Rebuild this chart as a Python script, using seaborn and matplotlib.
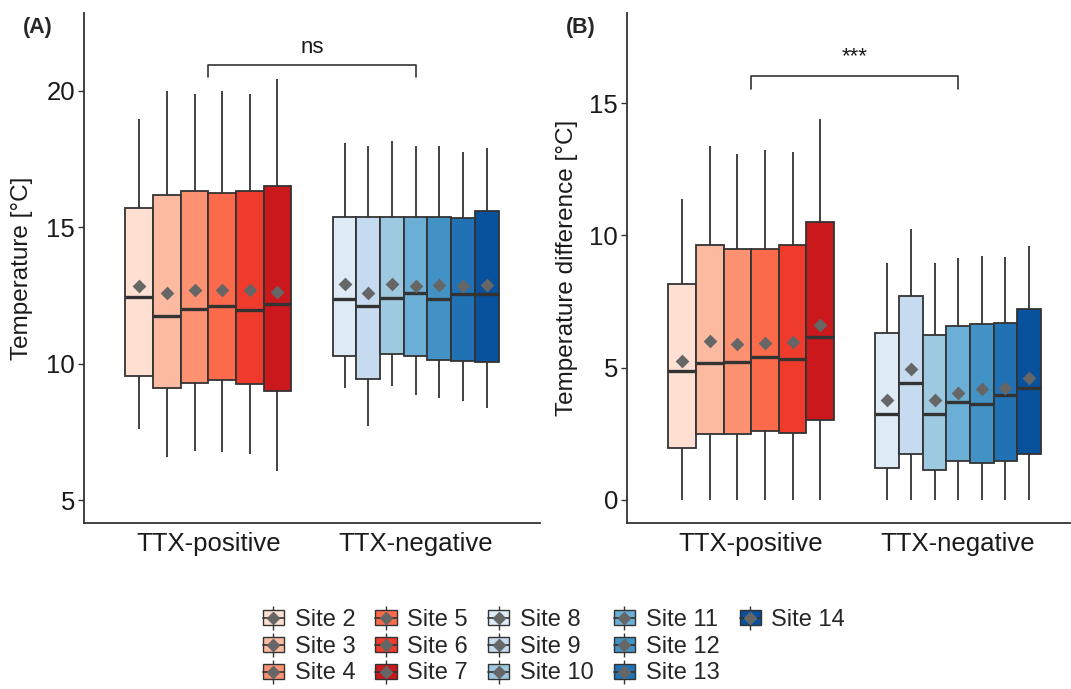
import matplotlib
matplotlib.use("Agg")
import matplotlib.pyplot as plt
import pandas as pd
import seaborn as sns
from matplotlib.lines import Line2D
from matplotlib.patches import Patch
from matplotlib.legend_handler import HandlerTuple

groups = ["TTX-positive", "TTX-negative"]
pos_sites = ["Site 2", "Site 3", "Site 4", "Site 5", "Site 6", "Site 7"]
neg_sites = ["Site 8", "Site 9", "Site 10", "Site 11", "Site 12", "Site 13", "Site 14"]
sites = pos_sites + neg_sites

reds = ["#FEE0D2", "#FCBBA1", "#FC9272", "#FB6A4A", "#EF3B2C", "#CB181D"]
blues = ["#DEEBF7", "#C6DBEF", "#9ECAE1", "#6BAED6", "#4292C6", "#2171B5", "#08519C"]

# (A) temperature [°C], box stats (Site 2 ... Site 14)
temp_lo = [7.60, 6.57, 6.79, 6.77, 6.70, 6.06, 9.12, 7.70, 9.17, 8.85, 8.75, 8.63, 8.36]
temp_q1 = [9.53, 9.11, 9.29, 9.39, 9.24, 9.00, 10.29, 9.44, 10.34, 10.29, 10.12, 10.10, 10.05]
temp_med = [12.45, 11.74, 12.01, 12.10, 11.96, 12.20, 12.37, 12.10, 12.42, 12.60, 12.35, 12.54, 12.54]
temp_q3 = [15.72, 16.18, 16.32, 16.24, 16.32, 16.51, 15.39, 15.39, 15.39, 15.39, 15.39, 15.32, 15.58]
temp_hi = [18.96, 19.98, 19.89, 19.98, 19.89, 20.43, 18.10, 17.97, 18.15, 17.97, 17.97, 17.74, 17.91]
temp_mean = [12.84, 12.60, 12.70, 12.70, 12.68, 12.64, 12.91, 12.60, 12.93, 12.84, 12.89, 12.86, 12.89]

# (B) temperature difference [°C]
diff_lo = [0, 0, 0, 0, 0, 0, 0, 0, 0, 0, 0, 0, 0]
diff_q1 = [1.95, 2.49, 2.49, 2.62, 2.54, 3.02, 1.20, 1.73, 1.15, 1.47, 1.40, 1.47, 1.73]
diff_med = [4.88, 5.19, 5.20, 5.39, 5.32, 6.15, 3.24, 4.43, 3.24, 3.71, 3.64, 3.97, 4.24]
diff_q3 = [8.16, 9.63, 9.48, 9.48, 9.63, 10.49, 6.30, 7.72, 6.22, 6.56, 6.66, 6.70, 7.23]
diff_hi = [11.37, 13.39, 13.08, 13.23, 13.16, 14.41, 8.97, 10.25, 8.97, 9.13, 9.21, 9.18, 9.61]
diff_mean = [5.25, 6.02, 5.89, 5.94, 5.99, 6.60, 3.78, 4.94, 3.78, 4.03, 4.18, 4.24, 4.60]

# significance brackets: (label, bar height, tick bottom, text baseline)
sig_a = ("ns", 20.94, 20.51, 21.38)
sig_b = ("***", 16.03, 15.53, 16.55)

edge = "#333333"
mean_grey = "#666666"


def group_of(site):
    return groups[0] if site in pos_sites else groups[1]


def box_table(lo, q1, med, q3, hi):
    # five values per site give exactly these quartiles / whisker ends
    rows = []
    for i, s in enumerate(sites):
        for v in (lo[i], q1[i], med[i], q3[i], hi[i]):
            rows.append((group_of(s), s, v))
    return pd.DataFrame(rows, columns=["group", "site", "value"])


def mean_table(means):
    return pd.DataFrame({"group": [group_of(s) for s in sites], "site": sites, "mean": means})


def draw_panel(ax, box_df, mean_df, sig):
    for g, order, pal in [(groups[0], pos_sites, reds), (groups[1], neg_sites, blues)]:
        sns.boxplot(data=box_df[box_df.group == g], x="group", y="value", hue="site",
                    order=groups, hue_order=order, palette=pal, saturation=1,
                    width=0.8, gap=0, whis=(0, 100), showcaps=False, showfliers=False,
                    linecolor=edge, linewidth=1.3, medianprops=dict(linewidth=2.4),
                    legend=False, ax=ax)
        sns.stripplot(data=mean_df[mean_df.group == g], x="group", y="mean", hue="site",
                      order=groups, hue_order=order, palette=[mean_grey] * len(order),
                      dodge=True, jitter=False, marker="D", size=7, linewidth=0,
                      legend=False, ax=ax, zorder=5)
    label, top, bottom, ty = sig
    ax.plot([0, 0, 1, 1], [bottom, top, top, bottom], color=edge, lw=1.2, clip_on=False)
    ax.text(0.5, ty, label, ha="center", va="baseline", fontsize=16, color="#1a1a1a")
    ax.set_xlabel("")
    ax.spines[["top", "right"]].set_visible(False)
    for sp in ("left", "bottom"):
        ax.spines[sp].set_color(edge)
        ax.spines[sp].set_linewidth(1.3)
    ax.tick_params(axis="y", labelsize=18.5, length=4.5, width=1, color=edge, pad=2,
                   labelcolor="#1a1a1a")
    ax.tick_params(axis="x", labelsize=18.5, length=0, pad=7, labelcolor="#1a1a1a")


sns.set_theme(style="ticks")
plt.rcParams["font.family"] = ["Liberation Sans", "DejaVu Sans"]

fig = plt.figure(figsize=(10.71, 6.89), dpi=100)
ax_a = fig.add_axes([0.0784, 0.2414, 0.4258, 0.7393])
ax_b = fig.add_axes([0.5854, 0.2414, 0.4146, 0.7393])

draw_panel(ax_a, box_table(temp_lo, temp_q1, temp_med, temp_q3, temp_hi), mean_table(temp_mean), sig_a)
draw_panel(ax_b, box_table(diff_lo, diff_q1, diff_med, diff_q3, diff_hi), mean_table(diff_mean), sig_b)

ax_a.set_xlim(-0.6, 1.6)
ax_a.set_ylim(4.17, 22.84)
ax_a.set_yticks([5, 10, 15, 20])
ax_a.set_ylabel("Temperature [°C]", fontsize=17.5, color="#1a1a1a")
ax_a.yaxis.set_label_coords(-0.112, 0.5)

ax_b.set_xlim(-0.6, 1.545)
ax_b.set_ylim(-0.86, 18.40)
ax_b.set_yticks([0, 5, 10, 15])
ax_b.set_ylabel("Temperature difference [°C]", fontsize=17.5, color="#1a1a1a")
ax_b.yaxis.set_label_coords(-0.110, 0.5)

fig.text(38 / 1071, 1 - 28 / 689, "(A)", fontsize=15.5, fontweight="bold", ha="center", va="center")
fig.text(581 / 1071, 1 - 28 / 689, "(B)", fontsize=15.5, fontweight="bold", ha="center", va="center")

# legend: whisker + box + median + mean diamond per site, all overlaid
handles, labels = [], []
for s, c in zip(sites, reds + blues):
    handles.append((
        Line2D([], [], marker="|", markersize=17, color=edge, linestyle="none", markeredgewidth=1),
        Patch(facecolor=c, edgecolor=edge, linewidth=1),
        Line2D([], [], color=edge, lw=1.2),
        Line2D([], [], marker="D", markersize=6, color=mean_grey, linestyle="none"),
    ))
    labels.append(s)
# two empty slots so the last column holds only Site 14
for _ in range(2):
    handles.append(Patch(alpha=0))
    labels.append("")

fig.legend(handles, labels, ncol=5, loc="upper center", bbox_to_anchor=(554 / 1071, 1 - 609 / 689),
           handler_map={tuple: HandlerTuple(ndivide=1)}, frameon=False, fontsize=17,
           handlelength=0.9, handleheight=0.6, handletextpad=0.45, columnspacing=0.85,
           labelspacing=0.2, borderpad=0, borderaxespad=0)

fig.savefig("out.png", dpi=100, facecolor="white")
